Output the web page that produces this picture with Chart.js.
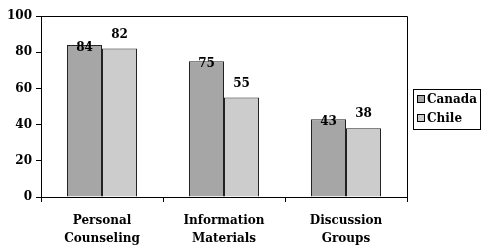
<!DOCTYPE html>
<html><head><meta charset="utf-8">
<script src="https://cdn.jsdelivr.net/npm/chart.js@4"></script>
<style>html,body{margin:0;padding:0;background:#fff;}#wrap{width:484px;height:247px;position:relative;}</style>
</head><body><div id="wrap"><canvas id="c" width="484" height="247"></canvas></div>
<script>
const categories = [["Personal","Counseling"],["Information","Materials"],["Discussion","Groups"]];
const canadaValues = [84, 75, 43];
const chileValues = [82, 55, 38];
const yTicks = [0, 20, 40, 60, 80, 100];
const seriesNames = ["Canada", "Chile"];

const FONT = "bold 12px 'DejaVu Serif'";
const colors = ["#a6a6a6", "#cccccc"];

const extras = {
  id: 'extras',
  afterDatasetsDraw(chart) {
    const ctx = chart.ctx, a = chart.chartArea;
    ctx.save();
    ctx.strokeStyle = '#000'; ctx.lineWidth = 1;
    ctx.beginPath();
    ctx.moveTo(a.left, a.top + 0.5); ctx.lineTo(a.right + 0.5, a.top + 0.5); ctx.lineTo(a.right + 0.5, a.bottom);
    ctx.stroke();
    ctx.font = FONT; ctx.fillStyle = '#000'; ctx.textAlign = 'center'; ctx.textBaseline = 'middle';
    chart.data.datasets.forEach((ds, i) => {
      chart.getDatasetMeta(i).data.forEach((bar, j) => {
        const y = i === 0 ? bar.y + 3 : bar.y - 14;
        ctx.fillText(String(ds.data[j]), bar.x, y);
      });
    });
    // legend
    const lx = 413, ly = 89, lw = 67, lh = 40;
    ctx.strokeStyle = '#000';
    ctx.strokeRect(lx + 0.5, ly + 0.5, lw, lh);
    ctx.textAlign = 'left';
    seriesNames.forEach((n, i) => {
      const yy = ly + 10 + i * 19;
      ctx.fillStyle = colors[i];
      ctx.fillRect(lx + 4.5, yy - 3.5, 7, 7);
      ctx.strokeStyle = '#000';
      ctx.strokeRect(lx + 4.5, yy - 3.5, 7, 7);
      ctx.fillStyle = '#000';
      ctx.fillText(n, lx + 14, yy + 1);
    });
    ctx.restore();
  }
};

new Chart(document.getElementById('c'), {
  type: 'bar',
  data: {
    labels: categories,
    datasets: [
      { label: seriesNames[0], data: canadaValues, backgroundColor: colors[0], borderColor: '#222', borderWidth: 1 },
      { label: seriesNames[1], data: chileValues, backgroundColor: colors[1], borderColor: '#222', borderWidth: 1 }
    ]
  },
  options: {
    responsive: false, animation: false,
    layout: { padding: { top: 16, right: 77, left: 0, bottom: 0 } },
    plugins: { legend: { display: false }, tooltip: { enabled: false } },
    datasets: { bar: { categoryPercentage: 0.574, barPercentage: 1 } },
    scales: {
      x: {
        grid: { offset: true, drawOnChartArea: false, tickLength: 5, color: '#000' },
        border: { color: '#000', width: 1 },
        ticks: { color: '#000', font: { family: 'DejaVu Serif', weight: 'bold', size: 12, lineHeight: 1.5 }, padding: 10, maxRotation: 0 },
        afterFit(s) { s.height = 50; }
      },
      y: {
        min: 0, max: 100,
        afterBuildTicks(s) { s.ticks = yTicks.map(v => ({ value: v })); },
        grid: { drawOnChartArea: false, tickLength: 5, color: '#000' },
        border: { color: '#000', width: 1 },
        ticks: { color: '#000', font: { family: 'DejaVu Serif', weight: 'bold', size: 12 }, padding: 4 },
        afterFit(s) { s.width = 41; }
      }
    }
  },
  plugins: [extras]
});
</script></body></html>
